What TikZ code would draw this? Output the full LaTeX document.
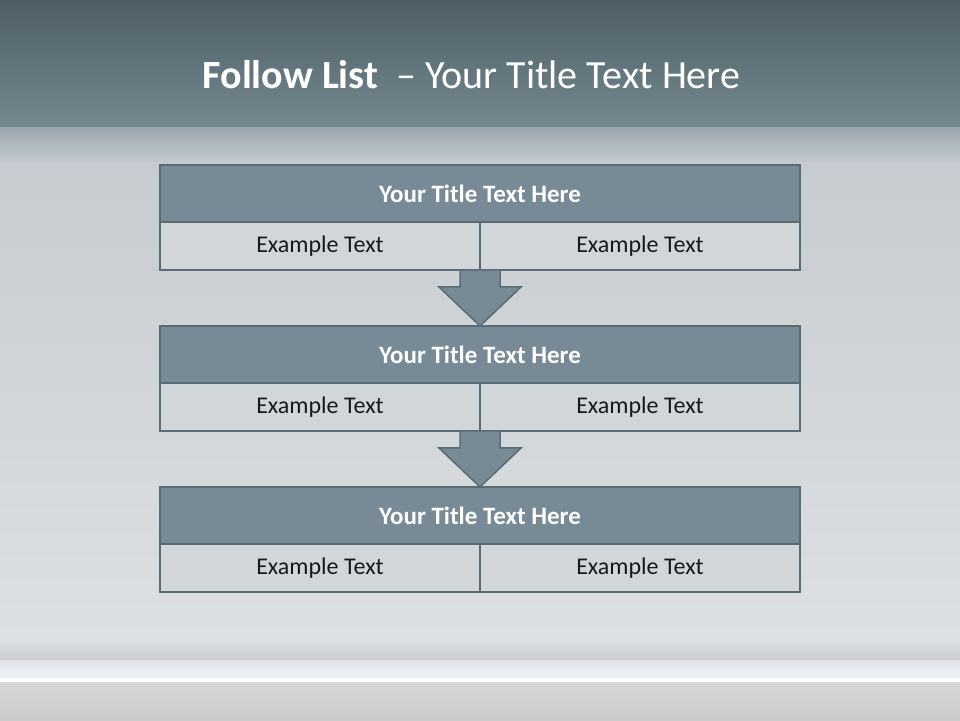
\documentclass[tikz,border=0pt]{standalone}
\usepackage{fontspec}
\setmainfont{Carlito}
\usetikzlibrary{positioning,calc}

\definecolor{slatedark}{HTML}{5B6B73}
\definecolor{slatefill}{HTML}{778A95}
\definecolor{cellfill}{HTML}{D1D6D9}
\definecolor{bgtop}{HTML}{4E5E67}
\definecolor{bgband}{HTML}{75898F}
\definecolor{bgfadeA}{HTML}{9CA8AF}
\definecolor{bgfadeB}{HTML}{C7CCD0}
\definecolor{bgmid}{HTML}{D4D8DB}
\definecolor{bglow}{HTML}{DCE0E3}
\definecolor{bgshadow}{HTML}{CACBCC}
\definecolor{bgshineA}{HTML}{DDE3E7}
\definecolor{bgshineB}{HTML}{EEF3F6}
\definecolor{bgfloor}{HTML}{CBCBCB}

\tikzset{
  stitle/.style={draw=slatedark, line width=2pt, fill=slatefill, minimum width=640pt,
    minimum height=57pt, inner sep=0pt, outer sep=0pt, text=white,
    font=\fontsize{25}{28}\selectfont\bfseries},
  scell/.style={draw=slatedark, line width=2pt, fill=cellfill, minimum width=320pt,
    minimum height=48pt, inner sep=0pt, outer sep=0pt, text=black!90,
    font=\fontsize{24}{28}\selectfont},
  sarrow/.style={draw=slatedark, line width=1.5pt, fill=slatefill, line join=miter}
}

\begin{document}
\begin{tikzpicture}[x=1pt,y=1pt]
\useasboundingbox (0,0) rectangle (960,720);

% Background
\shade[top color=bgtop, bottom color=bgband] (0,592) rectangle (960,720);
\shade[top color=bgfadeA, bottom color=bgfadeB] (0,555) rectangle (960,592);
\shade[top color=bgfadeB, middle color=bgmid, bottom color=bglow] (0,80) rectangle (960,555);
\shade[top color=bglow, bottom color=bgshadow] (0,60) rectangle (960,80);
\shade[top color=bgshineA, bottom color=bgshineB] (0,42) rectangle (960,60);
\fill[white!96!bgshineB] (0,38) rectangle (960,42);
\shade[top color=bgfloor!80!white, bottom color=bgfloor] (0,0) rectangle (960,38);

% Text Node
\node[text=white, font=\fontsize{40}{44}\selectfont] (head) at (471.5,645)
  {\textbf{Follow List}\ \ – Your Title Text Here};

% Box 1
\node[stitle] (t1) at (480,526.5) {Your Title Text Here};
\node[scell, below right=0pt and 0pt of t1.south west] (l1) {Example Text};
\node[scell, below left=0pt and 0pt of t1.south east] (r1) {Example Text};

% Box 2
\node[stitle, below=56pt of l1.south east] (t2) {Your Title Text Here};
\node[scell, below right=0pt and 0pt of t2.south west] (l2) {Example Text};
\node[scell, below left=0pt and 0pt of t2.south east] (r2) {Example Text};

% Box 3
\node[stitle, below=56pt of l2.south east] (t3) {Your Title Text Here};
\node[scell, below right=0pt and 0pt of t3.south west] (l3) {Example Text};
\node[scell, below left=0pt and 0pt of t3.south east] (r3) {Example Text};

% Arrows
\draw[sarrow] ($(l1.south east)+(-20,0)$) -- ++(0,-17) -- ++(-21,0) -- (t2.north)
  -- ($(l1.south east)+(41,-17)$) -- ++(-21,0) -- ++(0,17) -- cycle;
\draw[sarrow] ($(l2.south east)+(-20,0)$) -- ++(0,-17) -- ++(-21,0) -- (t3.north)
  -- ($(l2.south east)+(41,-17)$) -- ++(-21,0) -- ++(0,17) -- cycle;

\end{tikzpicture}
\end{document}
